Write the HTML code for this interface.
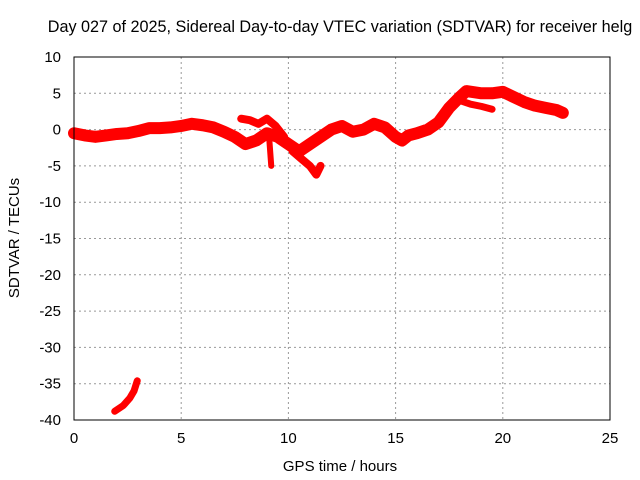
<!DOCTYPE html>
<html><head><meta charset="utf-8"><style>
body{margin:0;background:#fff}
svg{display:block;font-family:"Liberation Sans",sans-serif}
</style></head><body>
<svg id="c" width="640" height="480">
<text x="340" y="32" font-size="16.2" text-anchor="middle">Day 027 of 2025, Sidereal Day-to-day VTEC variation (SDTVAR) for receiver helg</text>
<text x="340" y="471" font-size="15" text-anchor="middle">GPS time / hours</text>
<text transform="translate(19,238) rotate(-90)" font-size="15" text-anchor="middle">SDTVAR / TECUs</text>
<g id="grid"></g><g id="data"></g>
<rect x="74" y="57" width="536" height="363" fill="none" stroke="#000"/>
</svg>
<script>
const xTicks=[0,5,10,15,20,25];
const yTicks=[10,5,0,-5,-10,-15,-20,-25,-30,-35,-40];
const mainT=[0,0.5,1,1.5,2,2.5,3,3.5,4,4.5,5,5.5,6,6.5,7,7.5,8,8.5,9,9.5,10,10.5,11,11.5,12,12.5,13,13.5,14,14.5,15,15.3,15.6,16,16.5,17,17.5,18,18.3,19,19.5,20,20.5,21,21.5,22,22.5,22.8];
const mainV=[-0.5,-0.8,-1.0,-0.8,-0.6,-0.5,-0.2,0.2,0.2,0.3,0.5,0.8,0.6,0.3,-0.3,-1,-2,-1.5,-0.5,-1,-2,-3,-2,-1,0,0.5,-0.3,0,0.8,0.3,-1,-1.5,-0.8,-0.5,0,1,3,4.5,5.3,5,5,5.2,4.5,3.8,3.3,3,2.7,2.3];
const seg2T=[7.8,8.2,8.6,9.0,9.4,9.8];
const seg2V=[1.5,1.3,0.8,1.5,0.5,-1];
const seg3T=[10.2,10.6,11,11.3,11.5];
const seg3V=[-3,-4,-5,-6.2,-5];
const seg4T=[9.1,9.15,9.2];
const seg4V=[-1,-3,-5];
const seg5T=[18,18.5,19,19.5];
const seg5V=[4,3.5,3.2,2.8];
const lowT=[1.9,2.3,2.6,2.8,2.95];
const lowV=[-38.8,-38,-37,-36,-34.6];
const X=t=>74+t*536/25, Y=v=>57+(10-v)*363/50;
const NS="http://www.w3.org/2000/svg";
const g=document.getElementById('grid'), d=document.getElementById('data');
function mk(tag,attrs,parent){const e=document.createElementNS(NS,tag);for(const k in attrs)e.setAttribute(k,attrs[k]);parent.appendChild(e);return e;}
xTicks.forEach(t=>{
  if(t>0&&t<25){const l=mk('line',{x1:X(t),x2:X(t),y1:57,y2:420,stroke:'#999','stroke-dasharray':'2,3'},g);
  
  }
  const tx=mk('text',{x:X(t),y:443,'font-size':15,'text-anchor':'middle'},g);tx.textContent=t;
  
  
});
yTicks.forEach(v=>{
  if(v<10&&v>-40){const l=mk('line',{x1:74,x2:610,y1:Y(v),y2:Y(v),stroke:'#999','stroke-dasharray':'2,3'},g);
  
  }
  const tx=mk('text',{x:61,y:Y(v)+5,'font-size':15,'text-anchor':'end'},g);tx.textContent=v;
  
  
});
function series(T,V,w,name){
  const p=mk('polyline',{points:T.map((t,i)=>X(t)+','+Y(V[i])).join(' '),fill:'none',stroke:'#f00','stroke-width':w,'stroke-linejoin':'round','stroke-linecap':'round'},d);
  
  
}
series(mainT,mainV,12,'sdtvar-main-series');
series(seg2T,seg2V,8,'sdtvar-branch-1');
series(seg3T,seg3V,8,'sdtvar-branch-2');
series(seg4T,seg4V,6,'sdtvar-branch-3');
series(seg5T,seg5V,7,'sdtvar-branch-4');
series(lowT,lowV,7,'sdtvar-low-arc');
</script>
</body></html>
